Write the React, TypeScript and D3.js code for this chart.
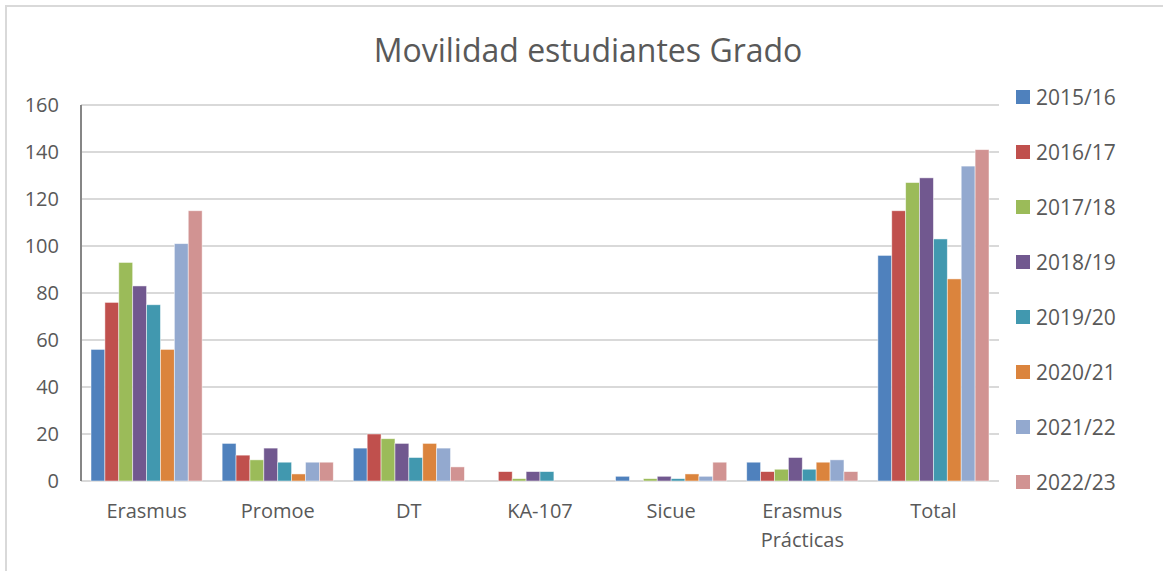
import React, { useEffect, useRef } from 'react';
import * as d3 from 'd3';

const categories = ['Erasmus', 'Promoe', 'DT', 'KA-107', 'Sicue', 'Erasmus Prácticas', 'Total'];
const years = ['2015/16', '2016/17', '2017/18', '2018/19', '2019/20', '2020/21', '2021/22', '2022/23'];

// values per year, in category order
const v1516 = [56, 16, 14, 0, 2, 8, 96];
const v1617 = [76, 11, 20, 4, 0, 4, 115];
const v1718 = [93, 9, 18, 1, 1, 5, 127];
const v1819 = [83, 14, 16, 4, 2, 10, 129];
const v1920 = [75, 8, 10, 4, 1, 5, 103];
const v2021 = [56, 3, 16, 0, 3, 8, 86];
const v2122 = [101, 8, 14, 0, 2, 9, 134];
const v2223 = [115, 8, 6, 0, 8, 4, 141];
const yTicks = [0, 20, 40, 60, 80, 100, 120, 140, 160];

const series = [v1516, v1617, v1718, v1819, v1920, v2021, v2122, v2223];
const barColors = ['#4f81bd', '#c0504d', '#9bbb59', '#71588f', '#4198af', '#db843d', '#93a9cf', '#d19392'];

const App = () => {
  const svgRef = useRef(null);

  useEffect(() => {
    const width = 1163;
    const height = 571;
    const margin = { top: 105, right: 164, bottom: 90, left: 81 };
    const font = "'Open Sans', sans-serif";

    const svg = d3.select(svgRef.current);
    svg.selectAll('*').remove();
    svg.attr('width', width).attr('height', height);

    svg.append('rect').attr('width', width).attr('height', height).attr('fill', '#fff');

    // outer frame (only top and left visible)
    svg.append('path')
      .attr('d', `M6,${height + 5} V6 H${width + 5}`)
      .attr('fill', 'none')
      .attr('stroke', '#d9d9d9')
      .attr('stroke-width', 2);

    const x = d3.scaleBand()
      .domain(categories)
      .range([margin.left, width - margin.right]);

    const x1 = d3.scaleBand()
      .domain(years)
      .range([0, x.bandwidth()])
      .paddingOuter(0.72)
      .paddingInner(0);

    const y = d3.scaleLinear()
      .domain([0, 160])
      .range([height - margin.bottom, margin.top]);

    // gridlines
    svg.append('g')
      .selectAll('line')
      .data(yTicks)
      .join('line')
      .attr('x1', margin.left)
      .attr('x2', width - margin.right)
      .attr('y1', d => y(d))
      .attr('y2', d => y(d))
      .attr('stroke', '#d9d9d9')
      .attr('stroke-width', 2);

    // y labels
    svg.append('g')
      .selectAll('text')
      .data(yTicks)
      .join('text')
      .attr('x', 59)
      .attr('y', d => y(d))
      .attr('dy', '0.36em')
      .attr('text-anchor', 'end')
      .attr('font-family', font)
      .attr('font-size', 20)
      .attr('fill', '#595959')
      .text(d => d);

    // bars
    const groups = svg.append('g')
      .selectAll('g')
      .data(series)
      .join('g')
      .attr('fill', (d, i) => barColors[i]);

    groups.selectAll('rect')
      .data((d, i) => d.map((v, j) => ({ v, cat: categories[j], year: years[i] })))
      .join('rect')
      .attr('x', d => x(d.cat) + x1(d.year))
      .attr('y', d => y(d.v))
      .attr('width', x1.bandwidth())
      .attr('height', d => y(0) - y(d.v))
      .attr('stroke', '#fff')
      .attr('stroke-opacity', 0.6)
      .attr('stroke-width', 0.8);

    // left axis line
    svg.append('line')
      .attr('x1', margin.left)
      .attr('x2', margin.left)
      .attr('y1', y(160))
      .attr('y2', y(0))
      .attr('stroke', '#868686')
      .attr('stroke-width', 2);

    // category labels
    const catText = svg.append('g')
      .selectAll('text')
      .data(categories)
      .join('text')
      .attr('x', d => x(d) + x.bandwidth() / 2)
      .attr('y', 518)
      .attr('text-anchor', 'middle')
      .attr('font-family', font)
      .attr('font-size', 20)
      .attr('fill', '#595959');

    catText.each(function (d) {
      const words = d === 'Erasmus Prácticas' ? d.split(' ') : [d];
      const t = d3.select(this);
      words.forEach((w, i) => {
        t.append('tspan')
          .attr('x', x(d) + x.bandwidth() / 2)
          .attr('dy', i === 0 ? 0 : 29)
          .text(w);
      });
    });

    // title
    svg.append('text')
      .attr('x', 588)
      .attr('y', 62)
      .attr('text-anchor', 'middle')
      .attr('font-family', font)
      .attr('font-size', 32)
      .attr('fill', '#595959')
      .text('Movilidad estudiantes Grado');

    // legend
    const legend = svg.append('g')
      .selectAll('g')
      .data(years)
      .join('g')
      .attr('transform', (d, i) => `translate(1016,${97 + i * 55})`);

    legend.append('rect')
      .attr('x', 0)
      .attr('y', -7)
      .attr('width', 14)
      .attr('height', 14)
      .attr('fill', (d, i) => barColors[i]);

    legend.append('text')
      .attr('x', 20)
      .attr('y', 0)
      .attr('dy', '0.36em')
      .attr('font-family', font)
      .attr('font-size', 21)
      .attr('fill', '#595959')
      .text(d => d);
  }, []);

  return (
    <div style={{ position: 'fixed', left: 0, top: 0 }}>
      <svg ref={svgRef} style={{ display: 'block' }}></svg>
    </div>
  );
};

export default App;
